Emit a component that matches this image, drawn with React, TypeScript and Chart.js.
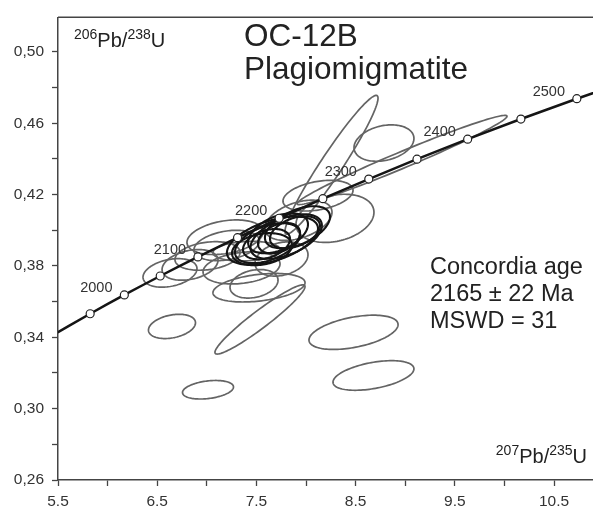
import React, { useEffect, useRef } from "react";
import { Chart, registerables } from "chart.js";

Chart.register(...registerables);

// Concordia curve points (every 50 Ma), 207Pb/235U vs 206Pb/238U
const concordiaAges = [1900, 1950, 2000, 2050, 2100, 2150, 2200, 2250, 2300, 2350, 2400, 2450, 2500, 2550];
const concordiaX = [5.4963, 5.8241, 6.1686, 6.5303, 6.9105, 7.3097, 7.7291, 8.1698, 8.6327, 9.1188, 9.6295, 10.1661, 10.73, 11.322];
const concordiaY = [0.34278, 0.3532, 0.36375, 0.37437, 0.38507, 0.39586, 0.40673, 0.41769, 0.42873, 0.43986, 0.45107, 0.46237, 0.47376, 0.48524];
const markerShown = [false, true, true, true, true, true, true, true, true, true, true, true, true, false];
const ageLabels = ["", "", "2000", "", "2100", "", "2200", "", "2300", "", "2400", "", "2500", ""];

// Analyses (grey ellipses): 207/235, half-width, 206/238, half-height, rho
const spotX = [6.649, 7.012, 7.536, 8.479, 8.68, 8.257, 8.968, 8.786, 6.629, 6.831, 7.183, 7.007, 7.35, 7.4, 7.526, 7.476, 7.753, 8.121, 8.292, 7.924, 7.2];
const spotSx = [0.237, 0.257, 0.454, 0.449, 0.408, 0.469, 1.058, 0.302, 0.272, 0.282, 0.383, 0.328, 0.388, 0.338, 0.464, 0.242, 0.267, 0.353, 0.393, 0.338, 0.33];
const spotY = [0.3461, 0.3106, 0.35, 0.3428, 0.3186, 0.4367, 0.4394, 0.4489, 0.3761, 0.3806, 0.3961, 0.3856, 0.3789, 0.3883, 0.3678, 0.37, 0.3839, 0.4194, 0.4067, 0.4056, 0.3915];
const spotSy = [0.0068, 0.0052, 0.0194, 0.0096, 0.0083, 0.0389, 0.025, 0.0102, 0.008, 0.0086, 0.0097, 0.008, 0.009, 0.0055, 0.008, 0.008, 0.0096, 0.0086, 0.0135, 0.0113, 0.0085];
const spotRho = [0.3, 0.3, 0.95, 0.45, 0.45, 0.96, 0.98, 0.25, 0.3, 0.3, 0.3, 0.25, 0.25, 0.15, 0.35, 0.25, 0.25, 0.35, 0.25, 0.4, 0.3];

// Analyses used for the concordia age (black ellipses)
const concX = [7.662, 7.612, 7.718, 7.914, 7.602, 7.728, 7.556, 7.889, 7.8];
const concSx = [0.459, 0.328, 0.302, 0.328, 0.237, 0.212, 0.302, 0.252, 0.36];
const concY = [0.3942, 0.3928, 0.3983, 0.4017, 0.3922, 0.3956, 0.3894, 0.3989, 0.3965];
const concSy = [0.0135, 0.0112, 0.0112, 0.0118, 0.0085, 0.0085, 0.009, 0.009, 0.0125];
const concRho = [0.5, 0.45, 0.45, 0.5, 0.35, 0.35, 0.25, 0.4, 0.5];

const titleLines = ["OC-12B", "Plagiomigmatite"];
const resultLines = ["Concordia age", "2165 \u00b1 22 Ma", "MSWD = 31"];
const yTitle: [string, boolean][] = [["206", true], ["Pb/", false], ["238", true], ["U", false]];
const xTitle: [string, boolean][] = [["207", true], ["Pb/", false], ["235", true], ["U", false]];

const FONT = "'Liberation Sans', Arial, Helvetica, sans-serif";

function isoWidth(ctx: CanvasRenderingContext2D, parts: [string, boolean][], main: number, sup: number) {
  let w = 0;
  for (const [t, s] of parts) {
    ctx.font = `${s ? sup : main}px ${FONT}`;
    w += ctx.measureText(t).width;
  }
  return w;
}

function drawIso(ctx: CanvasRenderingContext2D, parts: [string, boolean][], x: number, y: number, main: number, sup: number) {
  let cx = x;
  ctx.textAlign = "left";
  ctx.textBaseline = "alphabetic";
  for (const [t, s] of parts) {
    ctx.font = `${s ? sup : main}px ${FONT}`;
    ctx.fillText(t, cx, s ? y - 8 : y);
    cx += ctx.measureText(t).width;
  }
}

const ellipsePlugin = {
  id: "ellipses",
  beforeDatasetsDraw(chart: any) {
    const { ctx, chartArea, scales } = chart;
    const xs = scales.x;
    const ys = scales.y;
    ctx.save();
    ctx.beginPath();
    ctx.rect(chartArea.left, chartArea.top, chartArea.right - chartArea.left, chartArea.bottom - chartArea.top);
    ctx.clip();
    const drawSet = (X: number[], SX: number[], Y: number[], SY: number[], R: number[], color: string, lw: number) => {
      ctx.strokeStyle = color;
      ctx.lineWidth = lw;
      for (let i = 0; i < X.length; i++) {
        const r = R[i];
        const q = Math.sqrt(1 - r * r);
        ctx.beginPath();
        const n = 120;
        for (let k = 0; k <= n; k++) {
          const t = (k / n) * Math.PI * 2;
          const vx = X[i] + SX[i] * Math.cos(t);
          const vy = Y[i] + SY[i] * (r * Math.cos(t) + q * Math.sin(t));
          const px = xs.getPixelForValue(vx);
          const py = ys.getPixelForValue(vy);
          if (k === 0) ctx.moveTo(px, py);
          else ctx.lineTo(px, py);
        }
        ctx.closePath();
        ctx.stroke();
      }
    };
    drawSet(spotX, spotSx, spotY, spotSy, spotRho, "#646464", 1.7);
    drawSet(concX, concSx, concY, concSy, concRho, "#141414", 2.1);
    ctx.restore();
  },
  afterDatasetsDraw(chart: any) {
    const { ctx, scales } = chart;
    ctx.save();
    ctx.fillStyle = "#333";
    ctx.font = `14.5px ${FONT}`;
    ctx.textAlign = "center";
    ctx.textBaseline = "middle";
    for (let i = 0; i < ageLabels.length; i++) {
      if (!ageLabels[i]) continue;
      const px = scales.x.getPixelForValue(concordiaX[i]);
      const py = scales.y.getPixelForValue(concordiaY[i]);
      ctx.fillText(ageLabels[i], px - 28, py - 7);
    }
    ctx.restore();
  },
  afterDraw(chart: any) {
    const { ctx, chartArea } = chart;
    ctx.save();
    // top frame line
    ctx.strokeStyle = "#444";
    ctx.lineWidth = 1.5;
    ctx.beginPath();
    ctx.moveTo(chartArea.left, chartArea.top);
    ctx.lineTo(chartArea.right, chartArea.top);
    ctx.stroke();

    ctx.fillStyle = "#222";
    ctx.textAlign = "left";
    ctx.textBaseline = "alphabetic";
    ctx.font = `31.5px ${FONT}`;
    ctx.fillText(titleLines[0], chartArea.left + 186, chartArea.top + 29);
    ctx.fillText(titleLines[1], chartArea.left + 186, chartArea.top + 62);

    ctx.font = `23.5px ${FONT}`;
    resultLines.forEach((t, i) => ctx.fillText(t, chartArea.left + 372, chartArea.top + 257 + i * 27));

    ctx.fillStyle = "#222";
    drawIso(ctx, yTitle, chartArea.left + 16, chartArea.top + 30, 20, 14);
    const w = isoWidth(ctx, xTitle, 20, 14);
    drawIso(ctx, xTitle, chartArea.right - 6 - w, chartArea.bottom - 17, 20, 14);
    ctx.restore();
  },
};

export default function App() {
  const ref = useRef<HTMLCanvasElement | null>(null);
  useEffect(() => {
    if (!ref.current) return;
    const chart = new Chart(ref.current, {
      type: "scatter",
      data: {
        datasets: [
          {
            label: "Concordia",
            data: concordiaX.map((x, i) => ({ x, y: concordiaY[i], age: concordiaAges[i] })) as any,
            showLine: true,
            borderColor: "#151515",
            borderWidth: 2.5,
            cubicInterpolationMode: "monotone",
            pointRadius: markerShown.map((m) => (m ? 4 : 0)),
            pointBackgroundColor: "#ffffff",
            pointBorderColor: "#222",
            pointBorderWidth: 1.2,
          } as any,
        ],
      },
      options: {
        animation: false,
        responsive: false,
        maintainAspectRatio: false,
        layout: { padding: { top: 13, right: 0, left: 0, bottom: 0 } },
        plugins: { legend: { display: false }, tooltip: { enabled: false } },
        scales: {
          x: {
            type: "linear",
            min: 5.5,
            max: 10.893,
            afterFit: (s: any) => {
              s.height = 26;
            },
            ticks: {
              stepSize: 0.5,
              includeBounds: false,
              autoSkip: false,
              maxRotation: 0,
              padding: 6,
              color: "#333",
              font: { family: FONT, size: 15.5 },
              callback: (v: any) => {
                const n = Number(v);
                return Math.round(n * 2) % 2 === 1 ? n.toFixed(1) : "";
              },
            },
            grid: { display: true, drawOnChartArea: false, drawTicks: true, tickLength: 6, tickColor: "#444", tickWidth: 1.3 },
            border: { display: true, color: "#444", width: 1.5 },
          },
          y: {
            type: "linear",
            min: 0.26,
            max: 0.5194,
            afterFit: (s: any) => {
              s.width = 58;
            },
            ticks: {
              stepSize: 0.02,
              includeBounds: false,
              autoSkip: false,
              padding: 8,
              color: "#333",
              font: { family: FONT, size: 15.5 },
              callback: (v: any) => {
                const n = Number(v);
                return Math.round(n * 100) % 4 === 2 ? n.toFixed(2).replace(".", ",") : "";
              },
            },
            grid: { display: true, drawOnChartArea: false, drawTicks: true, tickLength: 6, tickColor: "#444", tickWidth: 1.3 },
            border: { display: true, color: "#444", width: 1.5 },
          },
        },
      },
      plugins: [ellipsePlugin],
    });
    return () => chart.destroy();
  }, []);
  return (
    <div style={{ position: "absolute", left: 0, top: 0, width: 593, height: 506, background: "#fff" }}>
      <canvas ref={ref} width={593} height={506} style={{ width: 593, height: 506, display: "block" }} />
    </div>
  );
}
